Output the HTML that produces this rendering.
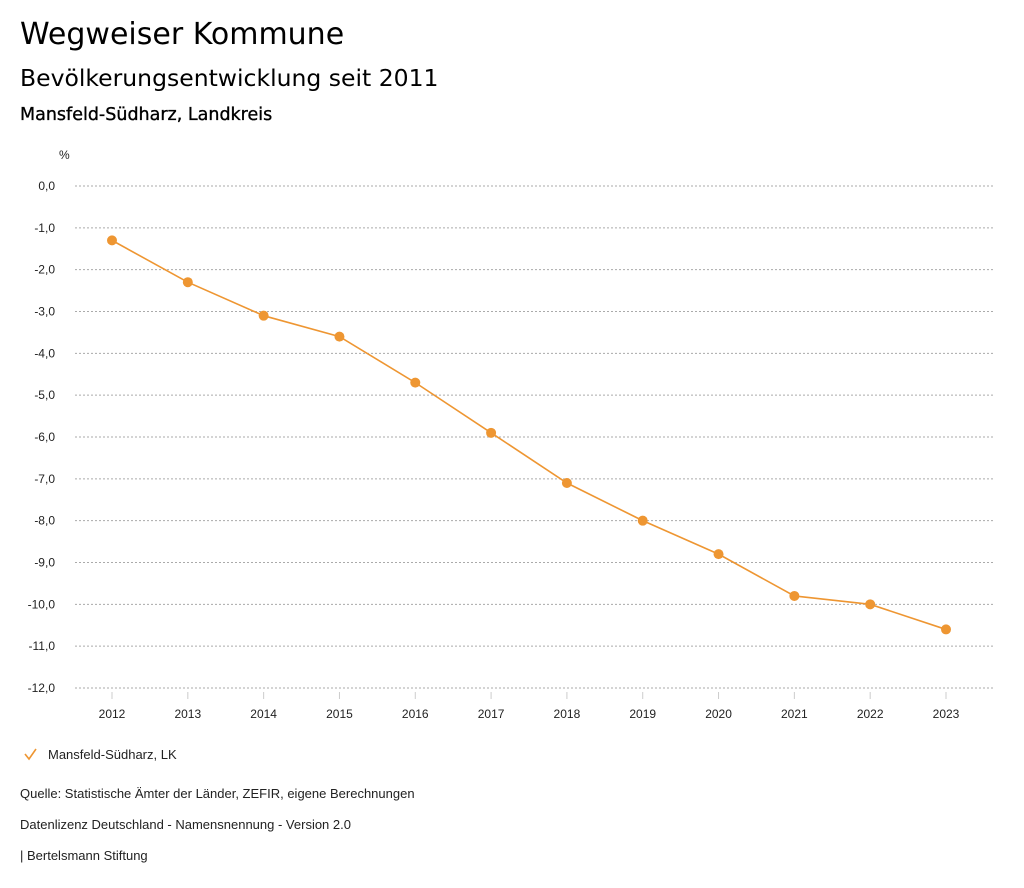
<!DOCTYPE html>
<html><head><meta charset="utf-8">
<style>
body{margin:0;background:#fff;width:1024px;height:888px;overflow:hidden;font-family:"Liberation Sans",sans-serif;color:#000}
.t1{position:absolute;left:20px;top:17px;font-size:30px;font-family:"DejaVu Sans",sans-serif}
.t2{position:absolute;left:20px;top:64px;font-size:23.5px;font-family:"DejaVu Sans",sans-serif}
.t3{position:absolute;left:20px;top:105px;font-size:17.5px;font-family:"DejaVu Sans",sans-serif;-webkit-text-stroke:0.35px #000}
.ft{position:absolute;left:20px;font-size:13px;color:#222}
svg{position:absolute;left:0;top:0}
</style></head><body>
<div class="t1">Wegweiser Kommune</div>
<div class="t2">Bevölkerungsentwicklung seit 2011</div>
<div class="t3">Mansfeld-Südharz, Landkreis</div>
<svg width="1024" height="888" id="chart"></svg>
<div class="ft" style="top:786px">Quelle: Statistische Ämter der Länder, ZEFIR, eigene Berechnungen</div>
<div class="ft" style="top:817px">Datenlizenz Deutschland - Namensnennung - Version 2.0</div>
<div class="ft" style="top:848px">| Bertelsmann Stiftung</div>
<script>
const years=[2012,2013,2014,2015,2016,2017,2018,2019,2020,2021,2022,2023];
const values=[-1.3,-2.3,-3.1,-3.6,-4.7,-5.9,-7.1,-8.0,-8.8,-9.8,-10.0,-10.6];
const yTicks=[0,-1,-2,-3,-4,-5,-6,-7,-8,-9,-10,-11,-12];
const seriesName="Mansfeld-Südharz, LK";
const color="#ee9632";
const svg=document.getElementById('chart');
const NS="http://www.w3.org/2000/svg";
const y=v=>186+(-v)*(502/12);
const x=i=>112+i*(834/11);
function mk(t,a){const e=document.createElementNS(NS,t);for(const k in a)e.setAttribute(k,a[k]);svg.appendChild(e);return e;}
let u=mk('text',{x:59,y:159,'font-size':12,fill:'#222'});u.textContent='%';


yTicks.forEach(v=>{
 const g=mk('line',{x1:75,x2:993,y1:y(v),y2:y(v),stroke:'#aaa','stroke-dasharray':'2,2','stroke-width':1});
 
 
 const t=mk('text',{x:55,y:y(v)+4,'font-size':12,'text-anchor':'end',fill:'#222'});
 t.textContent=v.toFixed(1).replace('.',',');
 
 
});
years.forEach((yr,i)=>{
 const k=mk('line',{x1:x(i),x2:x(i),y1:692,y2:699,stroke:'#ccc'});
 
 
 const t=mk('text',{x:x(i),y:718,'font-size':12,'text-anchor':'middle',fill:'#222'});
 t.textContent=yr;
 
 
});
const p=mk('polyline',{points:values.map((v,i)=>x(i)+','+y(v)).join(' '),fill:'none',stroke:color,'stroke-width':1.6});


values.forEach((v,i)=>{
 const c=mk('circle',{cx:x(i),cy:y(v),r:5,fill:color});
 
 
});
const lg=mk('path',{d:'M25 754 L29 759 L36 749',fill:'none',stroke:color,'stroke-width':1.6});


const lt=mk('text',{x:48,y:759,'font-size':13,fill:'#222'});
lt.textContent=seriesName;


</script>
</body></html>
